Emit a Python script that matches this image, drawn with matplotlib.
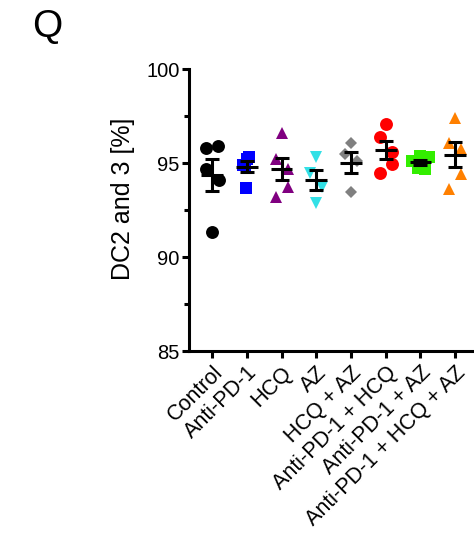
import numpy as np
import matplotlib
import matplotlib.pyplot as plt

matplotlib.use('Agg')
plt.rcParams['font.family'] = ['Liberation Sans', 'DejaVu Sans']

# groups and measured values (DC2 and 3, %)
groups = ['Control', 'Anti-PD-1', 'HCQ', 'AZ', 'HCQ + AZ',
          'Anti-PD-1 + HCQ', 'Anti-PD-1 + AZ', 'Anti-PD-1 + HCQ + AZ']

control = [95.8, 95.9, 94.7, 94.1, 91.35]
anti_pd1 = [95.3, 95.2, 94.9, 94.9, 93.7]
hcq = [96.6, 95.2, 94.67, 93.74, 93.18]
az = [95.3, 94.48, 93.74, 92.86]
hcq_az = [96.05, 95.48, 95.12, 93.44]
pd1_hcq = [97.07, 96.37, 95.6, 94.95, 94.45]
pd1_az = [95.4, 95.3, 95.1, 94.75, 94.7]
pd1_hcq_az = [97.38, 96.08, 95.73, 94.41, 93.6]

values = [control, anti_pd1, hcq, az, hcq_az, pd1_hcq, pd1_az, pd1_hcq_az]

# horizontal scatter offsets (layout only)
jitter = [
    [-0.17, 0.17, -0.17, 0.19, 0.0],
    [0.07, 0.01, -0.11, -0.05, -0.02],
    [0.0, -0.17, 0.2, 0.2, -0.15],
    [0.0, -0.17, 0.17, 0.0],
    [0.0, -0.18, 0.17, 0.0],
    [0.0, -0.17, 0.17, 0.17, -0.17],
    [0.0, 0.24, -0.23, -0.08, 0.12],
    [0.0, -0.17, 0.17, 0.17, -0.17],
]

colors = ['black', '#0000FF', '#800080', '#33E0E6', '#808080',
          '#FF0000', '#33EE00', '#FF8000']
markers = ['o', 's', '^', 'v', 'D', 'o', 's', '^']
msizes = [9.3, 8.3, 9, 9, 6.6, 9.3, 8.3, 9]

fig = plt.figure(figsize=(4.74, 5.36), dpi=100)
ax = fig.add_axes([0.399, 0.345, 0.62, 0.526])

for i, vals in enumerate(values):
    xs = i + np.array(jitter[i])
    ax.plot(xs, vals, linestyle='none', marker=markers[i], color=colors[i],
            markersize=msizes[i], markeredgewidth=0, zorder=2)
    v = np.array(vals)
    mean = v.mean()
    sem = v.std(ddof=1) / np.sqrt(len(v))
    ax.hlines(mean, i - 0.31, i + 0.31, color='black', lw=2.2, zorder=3)
    ax.errorbar(i, mean, yerr=sem, fmt='none', ecolor='black', elinewidth=2.2,
                capsize=4.8, capthick=2.2, zorder=3)

ax.set_xlim(-0.66, 7.8)
ax.set_ylim(85, 100)
ax.set_yticks([85, 90, 95, 100])
ax.set_yticks([87.5, 92.5, 97.5], minor=True)
ax.set_xticks(range(len(groups)))
ax.set_xticklabels(groups, rotation=45, ha='right', rotation_mode='anchor',
                   fontsize=15.5)

for s in ['top', 'right']:
    ax.spines[s].set_visible(False)
for s in ['left', 'bottom']:
    ax.spines[s].set_linewidth(2.2)

ax.tick_params(axis='both', which='major', width=2.2, length=5, pad=2)
ax.tick_params(axis='y', which='major', labelsize=14.5)
ax.tick_params(axis='y', which='minor', width=2.2, length=3.5)
ax.tick_params(axis='x', pad=3)

ax.set_ylabel('DC2 and 3 [%]', fontsize=18)
ax.yaxis.set_label_coords(-0.185, 0.54)

fig.text(0.068, 0.950, 'Q', fontsize=28, ha='left', va='center')

fig.savefig('out.png', dpi=100)
